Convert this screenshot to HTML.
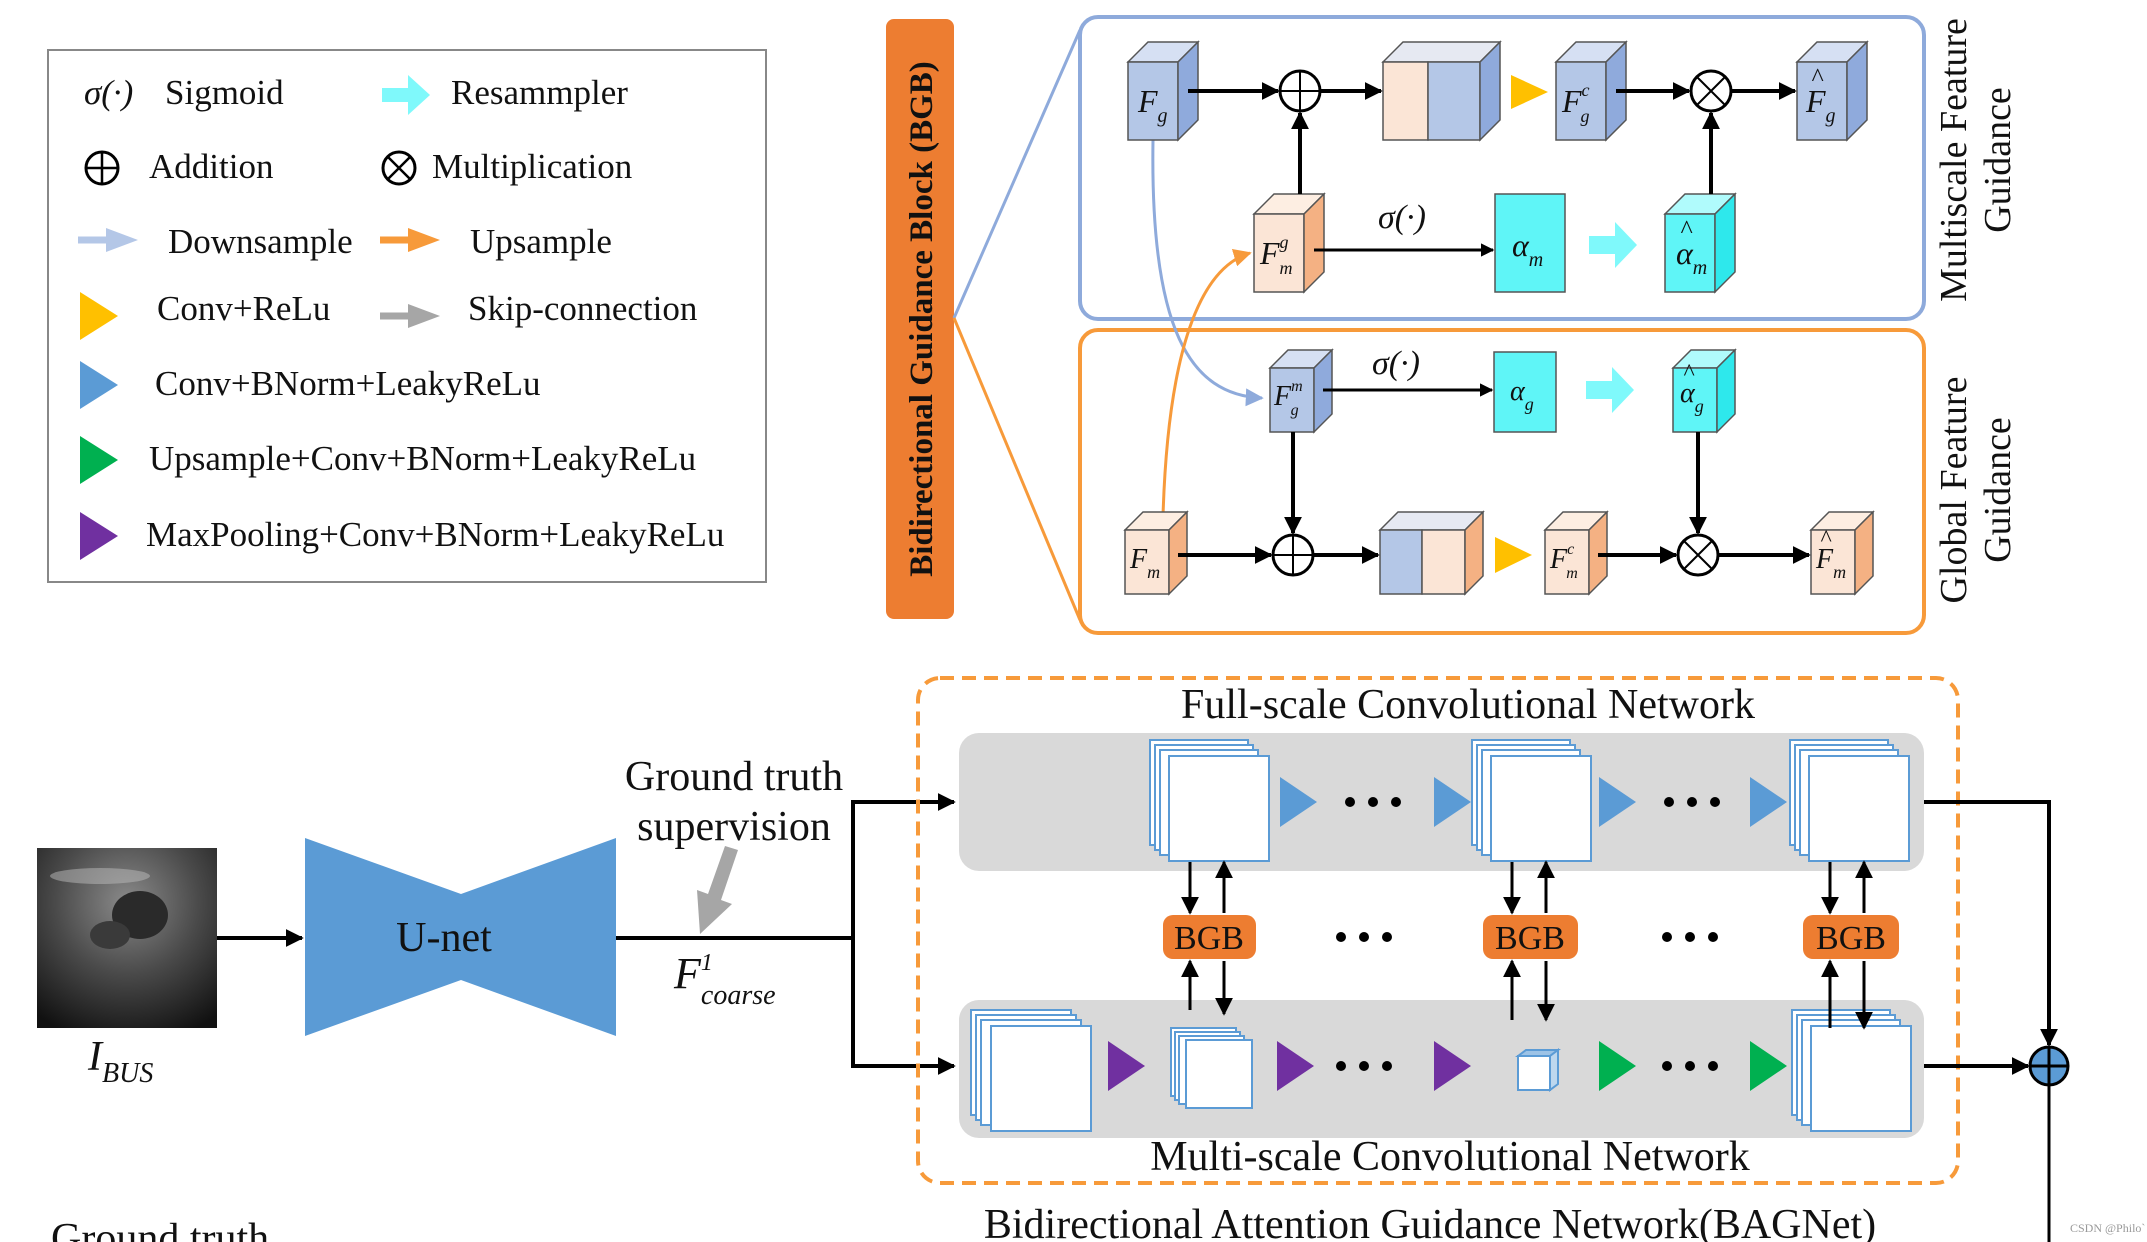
<!DOCTYPE html>
<html><head><meta charset="utf-8"><style>
html,body{margin:0;padding:0;background:#fff}
svg{display:block}
text{font-family:"Liberation Serif",serif;fill:#111}
.it{font-style:italic}
</style></head><body>
<svg width="2147" height="1242" viewBox="0 0 2147 1242" xmlns="http://www.w3.org/2000/svg">
<defs>
<marker id="ah" viewBox="0 0 10 10" refX="9" refY="5" markerWidth="4.5" markerHeight="4.5" orient="auto"><path d="M0,0L10,5L0,10z" fill="#000"/></marker>
<marker id="ahs" viewBox="0 0 10 10" refX="9" refY="5" markerWidth="6" markerHeight="6" orient="auto"><path d="M0,0L10,5L0,10z" fill="#000"/></marker>
<marker id="ahb" viewBox="0 0 10 10" refX="9" refY="5" markerWidth="6" markerHeight="6" orient="auto"><path d="M0,0L10,5L0,10z" fill="#8eaadb"/></marker>
<marker id="aho" viewBox="0 0 10 10" refX="9" refY="5" markerWidth="6" markerHeight="6" orient="auto"><path d="M0,0L10,5L0,10z" fill="#f79a3a"/></marker>
<radialGradient id="us" cx="0.5" cy="0.3" r="0.8"><stop offset="0" stop-color="#8a8a8a"/><stop offset="0.5" stop-color="#4a4a4a"/><stop offset="1" stop-color="#111"/></radialGradient>
</defs>

<!-- Legend -->
<rect x="48" y="50" width="718" height="532" fill="#fff" stroke="#888" stroke-width="2"/>
<g font-size="35">
<text x="84" y="104" class="it">σ(·)</text><text x="165" y="104">Sigmoid</text>
<path d="M382,88h26v-13l22,20l-22,20v-13h-26z" fill="#7ff9fb"/>
<text x="451" y="104">Resammpler</text>
<circle cx="102" cy="168" r="16" fill="none" stroke="#000" stroke-width="3"/><path d="M86,168h32M102,152v32" stroke="#000" stroke-width="2.5"/>
<text x="149" y="178">Addition</text>
<circle cx="399" cy="168" r="16" fill="none" stroke="#000" stroke-width="3"/><path d="M388,157l22,22M410,157l-22,22" stroke="#000" stroke-width="2.5"/>
<text x="432" y="178">Multiplication</text>
<path d="M78,240h32" stroke="#b4c7e7" stroke-width="7"/><path d="M106,228l32,12l-32,12z" fill="#b4c7e7"/>
<text x="168" y="253">Downsample</text>
<path d="M380,240h32" stroke="#f79a3a" stroke-width="7"/><path d="M408,228l32,12l-32,12z" fill="#f79a3a"/>
<text x="470" y="253">Upsample</text>
<path d="M80,292l38,24l-38,24z" fill="#ffc000"/><text x="157" y="320">Conv+ReLu</text>
<path d="M380,316h32" stroke="#a6a6a6" stroke-width="7"/><path d="M408,304l32,12l-32,12z" fill="#a6a6a6"/>
<text x="468" y="320">Skip-connection</text>
<path d="M80,361l38,24l-38,24z" fill="#5b9bd5"/><text x="155" y="395">Conv+BNorm+LeakyReLu</text>
<path d="M80,436l38,24l-38,24z" fill="#00b050"/><text x="149" y="470">Upsample+Conv+BNorm+LeakyReLu</text>
<path d="M80,512l38,24l-38,24z" fill="#7030a0"/><text x="146" y="546">MaxPooling+Conv+BNorm+LeakyReLu</text>
</g>

<!-- BGB bar -->
<rect x="886" y="19" width="68" height="600" rx="8" fill="#ed7d31"/>
<text transform="translate(932,319) rotate(-90)" text-anchor="middle" font-size="33" font-weight="bold">Bidirectional Guidance Block (BGB)</text>
<path d="M954,318L1080,30" stroke="#8eaadb" stroke-width="3" fill="none"/>
<path d="M954,318L1080,620" stroke="#f79a3a" stroke-width="3" fill="none"/>

<!-- Boxes -->
<rect x="1080" y="17" width="844" height="302" rx="18" fill="none" stroke="#8eaadb" stroke-width="4"/>
<rect x="1080" y="330" width="844" height="303" rx="18" fill="none" stroke="#f79a3a" stroke-width="4"/>
<g font-size="38">
<text transform="translate(1966,160) rotate(-90)" text-anchor="middle">Multiscale Feature</text>
<text transform="translate(2010,160) rotate(-90)" text-anchor="middle">Guidance</text>
<text transform="translate(1966,490) rotate(-90)" text-anchor="middle">Global Feature</text>
<text transform="translate(2010,490) rotate(-90)" text-anchor="middle">Guidance</text>
</g>

<!-- curves -->
<path d="M1153,140 C1150,330 1190,395 1262,398" stroke="#8eaadb" stroke-width="3" fill="none" marker-end="url(#ahb)"/>
<path d="M1163,516 C1168,350 1200,268 1250,253" stroke="#f79a3a" stroke-width="3" fill="none" marker-end="url(#aho)"/>

<g stroke="#555" stroke-width="1.5">
<path d="M1128,62L1148,42H1198L1178,62z" fill="#d6e0f3"/><rect x="1128" y="62" width="50" height="78" fill="#b4c7e7"/><path d="M1178,62L1198,42V120L1178,140z" fill="#8faadc"/>
<path d="M1383,62L1403,42H1500L1480,62z" fill="#e6e9f2"/><rect x="1383" y="62" width="45" height="78" fill="#fbe5d6"/><rect x="1428" y="62" width="52" height="78" fill="#b4c7e7"/><path d="M1480,62L1500,42V120L1480,140z" fill="#8faadc"/>
<path d="M1556,62L1576,42H1626L1606,62z" fill="#d6e0f3"/><rect x="1556" y="62" width="50" height="78" fill="#b4c7e7"/><path d="M1606,62L1626,42V120L1606,140z" fill="#8faadc"/>
<path d="M1797,62L1817,42H1867L1847,62z" fill="#d6e0f3"/><rect x="1797" y="62" width="50" height="78" fill="#b4c7e7"/><path d="M1847,62L1867,42V120L1847,140z" fill="#8faadc"/>
<path d="M1254,214L1274,194H1324L1304,214z" fill="#fdeee2"/><rect x="1254" y="214" width="50" height="78" fill="#fbe5d6"/><path d="M1304,214L1324,194V272L1304,292z" fill="#f4b183"/>
<rect x="1495" y="194" width="70" height="98" fill="#5ff5f7"/>
<path d="M1665,214L1685,194H1735L1715,214z" fill="#b0fbfc"/><rect x="1665" y="214" width="50" height="78" fill="#5ff5f7"/><path d="M1715,214L1735,194V272L1715,292z" fill="#2ee8ec"/>
<path d="M1270,368L1288,350H1332L1314,368z" fill="#d6e0f3"/><rect x="1270" y="368" width="44" height="64" fill="#b4c7e7"/><path d="M1314,368L1332,350V414L1314,432z" fill="#8faadc"/>
<rect x="1494" y="352" width="62" height="80" fill="#5ff5f7"/>
<path d="M1673,368L1691,350H1735L1717,368z" fill="#b0fbfc"/><rect x="1673" y="368" width="44" height="64" fill="#5ff5f7"/><path d="M1717,368L1735,350V414L1717,432z" fill="#2ee8ec"/>
<path d="M1125,530L1143,512H1187L1169,530z" fill="#fdeee2"/><rect x="1125" y="530" width="44" height="64" fill="#fbe5d6"/><path d="M1169,530L1187,512V576L1169,594z" fill="#f4b183"/>
<path d="M1380,530L1398,512H1483L1465,530z" fill="#e6e9f2"/><rect x="1380" y="530" width="42" height="64" fill="#b4c7e7"/><rect x="1422" y="530" width="43" height="64" fill="#fbe5d6"/><path d="M1465,530L1483,512V576L1465,594z" fill="#f4b183"/>
<path d="M1545,530L1563,512H1607L1589,530z" fill="#fdeee2"/><rect x="1545" y="530" width="44" height="64" fill="#fbe5d6"/><path d="M1589,530L1607,512V576L1589,594z" fill="#f4b183"/>
<path d="M1811,530L1829,512H1873L1855,530z" fill="#fdeee2"/><rect x="1811" y="530" width="44" height="64" fill="#fbe5d6"/><path d="M1855,530L1873,512V576L1855,594z" fill="#f4b183"/>
</g>
<path d="M1511,75l37,17l-37,17z" fill="#ffc000"/>
<path d="M1495,537l37,18l-37,18z" fill="#ffc000"/>
<path d="M1589,236h26v-14l22,23l-22,23v-14h-26z" fill="#7ff9fb"/>
<path d="M1586,381h26v-14l22,23l-22,23v-14h-26z" fill="#7ff9fb"/>

<g fill="#fff" stroke="#000" stroke-width="3">
<circle cx="1300" cy="91" r="20"/><circle cx="1711" cy="91" r="20"/>
<circle cx="1293" cy="555" r="20"/><circle cx="1698" cy="555" r="20"/>
</g>
<g stroke="#000" stroke-width="2">
<path d="M1280,91h40M1300,71v40"/><path d="M1697,77l28,28M1725,77l-28,28"/>
<path d="M1273,555h40M1293,535v40"/><path d="M1684,541l28,28M1712,541l-28,28"/>
</g>
<g stroke="#000" stroke-width="4" marker-end="url(#ah)" fill="none">
<path d="M1188,91H1278"/><path d="M1320,91H1381"/><path d="M1616,91H1689"/><path d="M1731,91H1795"/>
<path d="M1300,194V113"/><path d="M1711,194V113"/>
<path d="M1314,250H1493" stroke-width="3"/>
<path d="M1323,390H1492" stroke-width="3"/>
<path d="M1293,432V533"/><path d="M1698,432V533"/>
<path d="M1178,555H1271"/><path d="M1313,555H1378"/><path d="M1598,555H1676"/><path d="M1718,555H1809"/>
</g>
<text x="1378" y="228" font-size="34" class="it">σ(·)</text>
<text x="1372" y="374" font-size="34" class="it">σ(·)</text>

<g class="it" font-size="32">
<text x="1138" y="112">F<tspan font-size="20" dy="10">g</tspan></text>
<text x="1562" y="112">F<tspan font-size="18" dy="-16">c</tspan><tspan font-size="18" dx="-9" dy="26">g</tspan></text>
<text x="1806" y="112">F<tspan font-size="20" dy="10">g</tspan></text>
<text x="1811" y="86" font-size="26">^</text>
<text x="1260" y="264">F<tspan font-size="18" dy="-16">g</tspan><tspan font-size="18" dx="-9" dy="26">m</tspan></text>
<text x="1512" y="256">α<tspan font-size="20" dy="10">m</tspan></text>
<text x="1676" y="264">α<tspan font-size="20" dy="10">m</tspan></text>
<text x="1680" y="238" font-size="26">^</text>
<text x="1274" y="405" font-size="28">F<tspan font-size="16" dy="-14">m</tspan><tspan font-size="16" dx="-12" dy="24">g</tspan></text>
<text x="1510" y="400" font-size="28">α<tspan font-size="18" dy="10">g</tspan></text>
<text x="1680" y="402" font-size="28">α<tspan font-size="18" dy="10">g</tspan></text>
<text x="1683" y="380" font-size="24">^</text>
<text x="1130" y="568" font-size="28">F<tspan font-size="18" dy="10">m</tspan></text>
<text x="1550" y="568" font-size="28">F<tspan font-size="16" dy="-14">c</tspan><tspan font-size="16" dx="-8" dy="24">m</tspan></text>
<text x="1816" y="568" font-size="28">F<tspan font-size="18" dy="10">m</tspan></text>
<text x="1820" y="546" font-size="24">^</text>
</g>

<!-- Bottom section -->
<rect x="37" y="848" width="180" height="180" fill="url(#us)"/>
<ellipse cx="140" cy="915" rx="28" ry="24" fill="#2a2a2a"/>
<ellipse cx="110" cy="935" rx="20" ry="14" fill="#3a3a3a"/>
<ellipse cx="100" cy="876" rx="50" ry="8" fill="#bbb" opacity="0.5"/>
<text x="88" y="1070" font-size="42" class="it">I<tspan font-size="28" dy="12">BUS</tspan></text>
<path d="M217,938H302" stroke="#000" stroke-width="4" marker-end="url(#ah)"/>
<path d="M305,838L461,894L616,838V1036L461,980L305,1036z" fill="#5b9bd5"/>
<text x="444" y="951" font-size="42" text-anchor="middle">U-net</text>
<path d="M616,938H853M853,800V1066" stroke="#000" stroke-width="4" fill="none"/>
<path d="M851,802H954" stroke="#000" stroke-width="4" marker-end="url(#ah)"/>
<path d="M851,1066H954" stroke="#000" stroke-width="4" marker-end="url(#ah)"/>
<text x="734" y="790" font-size="42" text-anchor="middle">Ground truth</text>
<text x="734" y="840" font-size="42" text-anchor="middle">supervision</text>
<path d="M738,850L721,900L732,904L700,934L697,890L708,894L725,846z" fill="#a6a6a6"/>
<text x="674" y="988" font-size="44" class="it">F<tspan font-size="24" dy="-18">1</tspan><tspan font-size="28" dx="-12" dy="34">coarse</tspan></text>

<rect x="918" y="678" width="1040" height="505" rx="22" fill="none" stroke="#f79a3a" stroke-width="4" stroke-dasharray="14,8"/>
<text x="1468" y="718" font-size="42" text-anchor="middle">Full-scale Convolutional Network</text>
<text x="1450" y="1170" font-size="42" text-anchor="middle">Multi-scale Convolutional Network</text>
<text x="1430" y="1238" font-size="42" text-anchor="middle">Bidirectional Attention Guidance Network(BAGNet)</text>
<text x="51" y="1252" font-size="42">Ground truth</text>
<rect x="959" y="733" width="965" height="138" rx="20" fill="#d9d9d9"/>
<rect x="959" y="1000" width="965" height="138" rx="20" fill="#d9d9d9"/>

<g fill="#fff" stroke="#5b9bd5" stroke-width="2">
<rect x="1150" y="740" width="98" height="105"/><rect x="1155" y="745" width="98" height="105"/><rect x="1160" y="750" width="98" height="105"/><rect x="1169" y="756" width="100" height="105"/>
<rect x="1472" y="740" width="98" height="105"/><rect x="1477" y="745" width="98" height="105"/><rect x="1482" y="750" width="98" height="105"/><rect x="1491" y="756" width="100" height="105"/>
<rect x="1790" y="740" width="98" height="105"/><rect x="1795" y="745" width="98" height="105"/><rect x="1800" y="750" width="98" height="105"/><rect x="1809" y="756" width="100" height="105"/>
<rect x="971" y="1010" width="100" height="105"/><rect x="976" y="1015" width="100" height="105"/><rect x="981" y="1020" width="100" height="105"/><rect x="991" y="1026" width="100" height="105"/>
<rect x="1171" y="1028" width="65" height="68"/><rect x="1175" y="1032" width="65" height="68"/><rect x="1179" y="1036" width="65" height="68"/><rect x="1186" y="1040" width="66" height="68"/>
<rect x="1792" y="1010" width="98" height="105"/><rect x="1797" y="1015" width="98" height="105"/><rect x="1802" y="1020" width="98" height="105"/><rect x="1811" y="1026" width="100" height="105"/>
<rect x="1518" y="1056" width="32" height="34"/><path d="M1518,1056l8,-6h32l-8,6z" fill="#9dc3e6"/><path d="M1550,1056l8,-6v34l-8,6z" fill="#bdd7ee"/>
</g>
<g fill="#5b9bd5">
<path d="M1280,777l37,25l-37,25z"/><path d="M1434,777l37,25l-37,25z"/><path d="M1599,777l37,25l-37,25z"/><path d="M1750,777l37,25l-37,25z"/>
</g>
<g fill="#7030a0"><path d="M1108,1041l37,25l-37,25z"/><path d="M1277,1041l37,25l-37,25z"/><path d="M1434,1041l37,25l-37,25z"/></g>
<g fill="#00b050"><path d="M1599,1041l37,25l-37,25z"/><path d="M1750,1041l37,25l-37,25z"/></g>
<g fill="#000">
<circle cx="1350" cy="802" r="5"/><circle cx="1373" cy="802" r="5"/><circle cx="1396" cy="802" r="5"/>
<circle cx="1669" cy="802" r="5"/><circle cx="1692" cy="802" r="5"/><circle cx="1715" cy="802" r="5"/>
<circle cx="1341" cy="937" r="5"/><circle cx="1364" cy="937" r="5"/><circle cx="1387" cy="937" r="5"/>
<circle cx="1667" cy="937" r="5"/><circle cx="1690" cy="937" r="5"/><circle cx="1713" cy="937" r="5"/>
<circle cx="1341" cy="1066" r="5"/><circle cx="1364" cy="1066" r="5"/><circle cx="1387" cy="1066" r="5"/>
<circle cx="1667" cy="1066" r="5"/><circle cx="1690" cy="1066" r="5"/><circle cx="1713" cy="1066" r="5"/>
</g>
<g fill="#ed7d31"><rect x="1163" y="915" width="93" height="44" rx="10"/><rect x="1483" y="915" width="95" height="44" rx="10"/><rect x="1803" y="915" width="96" height="44" rx="10"/></g>
<g font-size="34" text-anchor="middle"><text x="1209" y="949">BGB</text><text x="1530" y="949">BGB</text><text x="1851" y="949">BGB</text></g>
<g stroke="#000" stroke-width="3" marker-end="url(#ahs)" fill="none">
<path d="M1190,862V913"/><path d="M1224,913V862"/><path d="M1190,1010V961"/><path d="M1224,961V1014"/>
<path d="M1512,862V913"/><path d="M1546,913V862"/><path d="M1512,1020V961"/><path d="M1546,961V1020"/>
<path d="M1830,862V913"/><path d="M1864,913V862"/><path d="M1830,1028V961"/><path d="M1864,961V1028"/>
</g>
<path d="M1924,802H2049V1045" stroke="#000" stroke-width="4" fill="none" marker-end="url(#ah)"/>
<path d="M1924,1066H2028" stroke="#000" stroke-width="4" marker-end="url(#ah)"/>
<path d="M2049,1085V1242" stroke="#000" stroke-width="3"/>
<circle cx="2049" cy="1066" r="19" fill="#5b9bd5" stroke="#000" stroke-width="3"/>
<path d="M2030,1066h38M2049,1047v38" stroke="#000" stroke-width="3"/>
<text x="2070" y="1232" font-size="12" style="fill:#999" font-family="Liberation Sans,sans-serif">CSDN @Philo`</text>
</svg>
</body></html>
